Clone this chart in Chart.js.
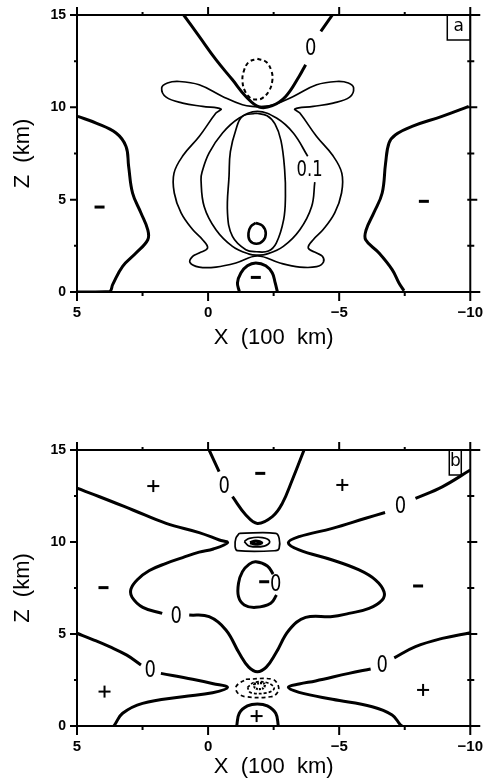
<!DOCTYPE html>
<html>
<head>
<meta charset="utf-8">
<script src="https://cdn.jsdelivr.net/npm/chart.js@4.4.0/dist/chart.umd.min.js"></script>
<style>
  body { margin: 0; background: #fff; width: 487px; height: 782px; overflow: hidden; position: relative; }
  canvas { position: absolute; left: 0; }
  #chartA { top: 0; }
  #chartB { top: 400px; }
</style>
</head>
<body>
<canvas id="chartA" width="487" height="351"></canvas>
<canvas id="chartB" width="487" height="382"></canvas>
<script>
// axes
const xTickValues = [5, 0, -5, -10];
const xTickLabels = ['5', '0', '\u22125', '\u221210'];
const xMinorTicks = [2.5, -2.5, -7.5];
const zTickValues = [0, 5, 10, 15];
const zTickLabels = ['0', '5', '10', '15'];
const zMinorTicks = [2.5, 7.5, 12.5];

// panel a contours, [x (100 km), z (km)]
const aZeroUpper1 = [[0.93, 15], [0.34, 13.84], [-0.30, 12.58], [-0.93, 11.49], [-1.44, 10.59], [-1.95, 10.02],
  [-2.45, 10.09], [-2.96, 10.59], [-3.47, 11.67], [-3.72, 12.31]];
const aZeroUpper2 = [[-4.30, 14.11], [-4.74, 15]];
const aDashedCell = [[-1.88, 12.63], [-2.22, 12.45], [-2.42, 11.95], [-2.45, 11.45], [-2.33, 10.9], [-2.07, 10.5],
  [-1.88, 10.43], [-1.62, 10.5], [-1.40, 10.9], [-1.31, 11.45], [-1.36, 11.95], [-1.55, 12.45], [-1.88, 12.63]];
const aOuter = [[-1.88, 10.02], [-1.31, 10.14], [-0.55, 10.59], [0.34, 11.22], [1.10, 11.40], [1.55, 11.32], [1.77, 11.05],
  [1.60, 10.55], [0.97, 10.23], [0.21, 10.05], [-0.49, 9.91], [-0.30, 9.69], [0.34, 8.42], [0.95, 7.40], [1.30, 6.44],
  [1.29, 5.36], [1.03, 4.28], [0.59, 3.38], [0.21, 2.83], [0.02, 2.38], [0.34, 2.11], [0.59, 1.93], [0.69, 1.60],
  [0.34, 1.35], [-0.30, 1.35], [-1.06, 1.57], [-1.88, 1.95], [-2.74, 1.57], [-3.50, 1.35], [-4.14, 1.37], [-4.40, 1.62],
  [-4.36, 1.93], [-4.14, 2.11], [-3.82, 2.38], [-4.01, 2.83], [-4.39, 3.38], [-4.83, 4.28], [-5.09, 5.36], [-5.10, 6.44],
  [-4.75, 7.40], [-4.14, 8.42], [-3.50, 9.69], [-3.31, 9.91], [-4.01, 10.05], [-4.77, 10.23], [-5.40, 10.55],
  [-5.55, 11.05], [-5.35, 11.32], [-4.90, 11.40], [-4.14, 11.22], [-3.25, 10.59], [-2.49, 10.14], [-1.88, 10.02]];
const aMiddle1 = [[-3.80, 7.35], [-3.25, 8.61], [-2.61, 9.42], [-1.88, 9.78], [-1.19, 9.42], [-0.55, 8.61], [-0.04, 7.53],
  [0.23, 6.50], [0.27, 6.08], [0.15, 4.63], [-0.30, 3.37], [-0.93, 2.47], [-1.57, 2.05], [-1.88, 2.0], [-2.23, 2.05],
  [-2.87, 2.47], [-3.50, 3.37], [-3.95, 4.63], [-4.07, 5.95]];
const aInner = [[-1.82, 9.68], [-1.30, 9.50], [-1.06, 8.79], [-0.85, 7.60], [-0.80, 6.30], [-0.74, 4.28], [-0.93, 3.01],
  [-1.44, 2.29], [-1.85, 2.18], [-2.30, 2.22], [-2.60, 2.65], [-2.88, 3.91], [-2.95, 5.20], [-2.92, 6.62], [-2.78, 8.20],
  [-2.55, 9.10], [-2.25, 9.55], [-1.82, 9.68]];
const aSmallLoop = [[-1.82, 3.74], [-2.07, 3.59], [-2.20, 3.19], [-2.10, 2.78], [-1.84, 2.61], [-1.59, 2.79], [-1.54, 3.19],
  [-1.63, 3.55], [-1.82, 3.74]];
const aDome = [[-1.19, 0.03], [-1.12, 0.49], [-1.25, 1.03], [-1.50, 1.42], [-1.82, 1.57], [-2.20, 1.42], [-2.45, 1.03],
  [-2.56, 0.49], [-2.64, 0.03]];
const aSideLeft = [[5, 0], [3.76, 0.03], [3.64, 0.40], [3.26, 1.39], [2.75, 2.11], [2.30, 2.83], [2.30, 3.37], [2.56, 4.28],
  [2.88, 5.36], [3.03, 6.80], [3.13, 7.88], [3.51, 8.61], [4.27, 9.15], [4.97, 9.51]];
const aSideRight = [[-7.47, 0.07], [-7.28, 0.49], [-7.02, 1.21], [-6.52, 2.11], [-6.01, 2.83], [-6.03, 3.37], [-6.32, 4.28],
  [-6.64, 5.36], [-6.77, 6.98], [-6.90, 8.07], [-7.15, 8.52], [-7.78, 8.97], [-8.92, 9.51], [-9.94, 10.05]];
const aMarks = [[-3.91, 13.21, '0'], [-3.87, 6.65, '0.1'], [4.14, 4.60, '-'], [-8.23, 4.91, '-'], [-1.82, 0.79, '-']];

// panel b contours
const bZeroTop1 = [[-0.04, 15], [-0.42, 13.82]];
const bZeroTop2 = [[-0.93, 12.46], [-1.44, 11.47], [-1.88, 11.01], [-2.45, 11.38], [-2.83, 12.10], [-3.21, 13.37], [-3.66, 15]];
const bWing1 = [[5, 12.92], [4.14, 12.46], [2.87, 11.74], [1.60, 11.01], [0.34, 10.51], [-0.43, 10.11], [-0.74, 9.96],
  [-0.20, 9.62], [0.34, 9.45], [0.97, 9.15], [1.60, 8.84], [2.24, 8.45], [2.70, 7.95], [2.94, 7.45], [2.90, 7.00],
  [2.49, 6.45], [1.75, 6.12]];
const bWing2 = [[0.72, 6.03], [-0.04, 5.94], [-0.68, 5.22], [-1.19, 3.95], [-1.55, 3.20], [-1.88, 2.95], [-2.22, 3.20],
  [-2.58, 3.95], [-3.09, 5.22], [-3.72, 5.90], [-4.74, 5.95], [-5.37, 6.12], [-6.14, 6.39], [-6.64, 6.85], [-6.71, 7.30],
  [-6.39, 7.93], [-5.76, 8.48], [-4.74, 9.02], [-3.47, 9.57], [-3.06, 9.96], [-3.47, 10.29], [-4.74, 10.74],
  [-6.01, 11.29], [-6.75, 11.60]];
const bWing3 = [[-7.91, 12.37], [-8.93, 13.0], [-10, 13.91]];
const bLowLeft1 = [[5, 5.04], [4.40, 4.70], [3.76, 4.31], [3.10, 3.85], [2.56, 3.32]];
const bLowLeft2 = [[1.80, 2.86], [0.59, 2.54], [-0.20, 2.30], [-0.74, 2.10], [-0.17, 1.81], [0.97, 1.59], [2.50, 1.23],
  [3.26, 0.69], [3.57, 0.05], [3.60, 0]];
const bLowRight1 = [[-10, 5.07], [-8.93, 4.76], [-7.91, 4.31], [-7.10, 3.70]];
const bLowRight2 = [[-6.20, 3.10], [-5.37, 2.86], [-4.10, 2.45], [-3.47, 2.28], [-3.06, 2.10], [-3.47, 1.83], [-4.74, 1.45],
  [-6.26, 1.05], [-7.02, 0.60], [-7.34, 0.05], [-7.40, 0]];
const bDome = [[-1.09, 0], [-1.19, 0.69], [-1.50, 1.09], [-1.88, 1.20], [-2.26, 1.09], [-2.58, 0.69], [-2.68, 0]];
const bMidLoop = [[-2.48, 8.26], [-2.26, 8.70], [-1.82, 8.93], [-1.57, 8.80], [-1.31, 8.39], [-1.16, 7.76], [-1.16, 7.03],
  [-1.38, 6.58], [-1.82, 6.45], [-2.39, 6.67], [-2.61, 7.12]];
const bCellOuter = [[-1.19, 10.47], [-2.58, 10.47], [-2.71, 10.20], [-2.71, 9.66], [-2.58, 9.53], [-1.12, 9.53],
  [-1.03, 9.75], [-1.06, 10.20], [-1.19, 10.47]];
const bCellInner = [[-1.38, 10.02], [-1.57, 10.20], [-2.07, 10.24], [-2.35, 10.02], [-2.14, 9.78], [-1.57, 9.78], [-1.38, 10.02]];
const bCellCore = [[-1.60, 9.96], [-1.82, 10.06], [-2.05, 9.96], [-1.82, 9.88], [-1.60, 9.96]];
const bLowCellOuter = [[-1.44, 2.54], [-2.45, 2.54], [-2.68, 2.17], [-2.64, 1.81], [-2.39, 1.59], [-1.44, 1.59],
  [-1.12, 1.81], [-1.08, 2.17], [-1.44, 2.54]];
const bLowCellInner = [[-1.50, 2.10], [-1.76, 2.37], [-2.26, 2.35], [-2.52, 2.05], [-2.26, 1.81], [-1.63, 1.81], [-1.50, 2.10]];
const bLowCellCore = [[-1.75, 2.30], [-2.15, 2.30], [-2.10, 2.05], [-1.80, 2.05], [-1.75, 2.30]];
const bMarks = [[-0.61, 13.04, '0'], [-7.34, 11.96, '0'], [1.22, 6.0, '0'], [2.21, 3.04, '0'], [-6.64, 3.32, '0'],
  [-2.58, 7.74, '0'], [-2.14, 7.84, '-'], [-1.99, 13.73, '-'], [3.99, 7.52, '-'], [-8.01, 7.61, '-'],
  [2.09, 13.04, '+'], [-5.12, 13.10, '+'], [3.95, 1.87, '+'], [-8.20, 1.96, '+'], [-1.85, 0.54, '+']];

const THICK = 3, THIN = 1.7;

function line(points, width, dash) {
  return {
    data: points.map(p => ({ x: p[0], y: p[1] })),
    showLine: true,
    borderColor: '#000',
    borderWidth: width,
    borderDash: dash || [],
    pointRadius: 0,
    tension: 0.4,
    fill: false
  };
}

// frame, ticks, text marks and the panel letter
function overlay(marks, letter) {
  return {
    id: 'overlay',
    afterDatasetsDraw(chart) {
      const { ctx, chartArea: a, scales: { x, y } } = chart;
      ctx.save();
      ctx.strokeStyle = '#000';
      ctx.lineWidth = 2;
      ctx.beginPath();
      ctx.moveTo(a.left - 6, a.top); ctx.lineTo(a.right + 10, a.top);
      ctx.moveTo(a.left - 6, a.bottom); ctx.lineTo(a.right + 10, a.bottom);
      ctx.moveTo(a.left, a.top - 8); ctx.lineTo(a.left, a.bottom + 9);
      ctx.moveTo(a.right, a.top - 8); ctx.lineTo(a.right, a.bottom + 9);
      xTickValues.forEach(v => {
        const px = x.getPixelForValue(v);
        ctx.moveTo(px, a.top); ctx.lineTo(px, a.top - 8);
        ctx.moveTo(px, a.bottom); ctx.lineTo(px, a.bottom + 9);
      });
      xMinorTicks.forEach(v => {
        const px = x.getPixelForValue(v);
        ctx.moveTo(px, a.top); ctx.lineTo(px, a.top - 3);
        ctx.moveTo(px, a.bottom); ctx.lineTo(px, a.bottom + 4);
      });
      zTickValues.forEach(v => {
        const py = y.getPixelForValue(v);
        ctx.moveTo(a.left, py); ctx.lineTo(a.left - 7, py);
        ctx.moveTo(a.right - 3, py); ctx.lineTo(a.right + 7, py);
      });
      zMinorTicks.forEach(v => {
        const py = y.getPixelForValue(v);
        ctx.moveTo(a.left, py); ctx.lineTo(a.left - 3, py);
        ctx.moveTo(a.right - 3, py); ctx.lineTo(a.right + 4, py);
      });
      ctx.stroke();

      ctx.fillStyle = '#000';
      ctx.textAlign = 'center';
      ctx.textBaseline = 'middle';
      marks.forEach(([mx, mz, t]) => {
        const px = x.getPixelForValue(mx), py = y.getPixelForValue(mz);
        if (t === '-') {
          ctx.fillRect(px - 5, py - 1.5, 10, 3);
        } else if (t === '+') {
          ctx.fillRect(px - 6, py - 1, 12, 2);
          ctx.fillRect(px - 1, py - 6, 2, 12);
        } else {
          // tall narrow plotter digits
          ctx.save();
          ctx.translate(px, py);
          ctx.scale(0.78, 1);
          ctx.font = (t === '0' ? 23 : 21) + "px 'DejaVu Sans', sans-serif";
          ctx.fillText(t, 0, 1);
          ctx.restore();
        }
      });

      // panel letter box
      const bw = letter === 'a' ? 23 : 12, bx = letter === 'a' ? a.right - bw : a.right - 9 - bw;
      ctx.lineWidth = 1.5;
      ctx.strokeRect(bx, a.top, bw, 25);
      ctx.font = "17px 'DejaVu Sans', sans-serif";
      ctx.fillText(letter, bx + bw / 2, a.top + 12);
      ctx.restore();
    }
  };
}

function axes(xHeight) {
  const tickFont = { family: "'Liberation Sans', Arial, sans-serif", size: 15, weight: 'bold' };
  const titleFont = { family: "'Liberation Sans', Arial, sans-serif", size: 22 };
  return {
    x: {
      type: 'linear', reverse: true, min: -10, max: 5,
      afterBuildTicks: s => { s.ticks = xTickValues.map(v => ({ value: v })); },
      ticks: { color: '#000', font: tickFont, maxRotation: 0, autoSkip: false, padding: 4,
        callback: (v, i) => xTickLabels[i] },
      grid: { display: false, drawTicks: true, tickLength: 8 },
      border: { display: false },
      title: { display: true, text: 'X  (100  km)', color: '#000', font: titleFont, padding: 0 },
      afterFit: s => { s.height = xHeight; }
    },
    y: {
      type: 'linear', min: 0, max: 15,
      afterBuildTicks: s => { s.ticks = zTickValues.map(v => ({ value: v })); },
      ticks: { color: '#000', font: { ...tickFont, size: 14 }, padding: 3,
        callback: (v, i) => zTickLabels[i] },
      grid: { display: false, drawTicks: true, tickLength: 8 },
      border: { display: false },
      title: { display: true, text: 'Z  (km)', color: '#000', font: titleFont, padding: { top: 10, bottom: 0 } },
      afterFit: s => { s.width = 77; }
    }
  };
}

function makeChart(id, datasets, marks, letter, padding, xHeight) {
  return new Chart(document.getElementById(id), {
    type: 'scatter',
    data: { datasets },
    options: {
      responsive: false,
      animation: false,
      layout: { padding },
      scales: axes(xHeight),
      plugins: { legend: { display: false }, tooltip: { enabled: false } }
    },
    plugins: [overlay(marks, letter)]
  });
}

makeChart('chartA', [
  line(aZeroUpper1, THICK), line(aZeroUpper2, THICK),
  line(aDashedCell, 2, [4, 3]),
  line(aOuter, THIN), line(aMiddle1, THIN), line(aInner, THIN), line(aSmallLoop, 2.6),
  line(aDome, THICK), line(aSideLeft, THICK), line(aSideRight, THICK)
], aMarks, 'a', { top: 15, right: 15.5, bottom: 0, left: 0 }, 59);

makeChart('chartB', [
  line(bZeroTop1, THICK), line(bZeroTop2, THICK),
  line(bWing1, THICK), line(bWing2, THICK), line(bWing3, THICK),
  line(bLowLeft1, THICK), line(bLowLeft2, THICK), line(bLowRight1, THICK), line(bLowRight2, THICK),
  line(bDome, THICK), line(bMidLoop, THICK),
  line(bCellOuter, THIN), line(bCellInner, THIN), line(bCellCore, 3),
  line(bLowCellOuter, THIN, [4, 3]), line(bLowCellInner, THIN, [3, 2]), line(bLowCellCore, 2.2, [2, 1])
], bMarks, 'b', { top: 50, right: 15.3, bottom: 2, left: 0 }, 54);
</script>
</body>
</html>
